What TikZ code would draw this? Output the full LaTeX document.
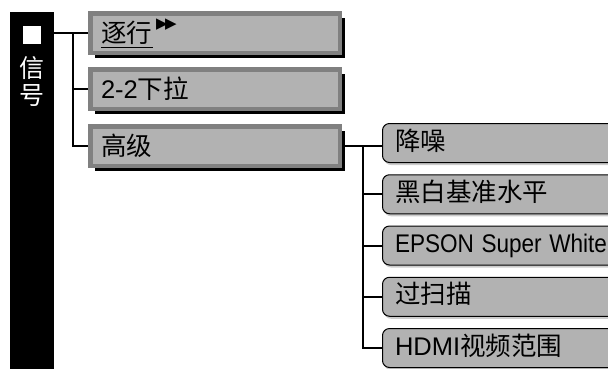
\documentclass[tikz,border=0pt]{standalone}
\usepackage{fontspec}
\setmainfont{Liberation Sans}
\newfontfamily\cjk{Noto Sans CJK SC}
\newfontfamily\symb{DejaVu Sans}
\usetikzlibrary{shadows}
\definecolor{menufill}{gray}{0.70}
\definecolor{menuframe}{gray}{0.50}

\begin{document}
\begin{tikzpicture}[x=1pt,y=-1pt,
  menutext/.style={font=\fontsize{25.5}{27}\selectfont},
  topitem/.style={menutext, fill=menufill, draw=menuframe, line width=4.5pt,
    minimum height=39.5pt, text width=228pt, inner xsep=10.75pt, align=left,
    text height=20pt, text depth=2pt,
    drop shadow={fill=black, opacity=1, shadow xshift=5pt, shadow yshift=-5pt}},
  subitem/.style={menutext, fill=menufill, draw=black, line width=1pt, rounded corners=7pt,
    minimum height=39pt, text width=252pt, inner xsep=12.5pt, align=left,
    text height=18pt, text depth=4pt,
    drop shadow={fill=black, opacity=0.2, shadow xshift=1.5pt, shadow yshift=-2.5pt}},
  link/.style={line width=2pt}]
\useasboundingbox (0,0) rectangle (608,368);
\clip (0,0) rectangle (608,368);

\node [fill=black, minimum width=44pt, minimum height=370pt, inner sep=0pt, anchor=north] (sig) at (32,12) {};
\node [fill=white, minimum size=18pt, inner sep=0pt] (mark) at (32,35) {};
\node [text=white, align=center, inner sep=0pt, font=\cjk\fontsize{25}{27}\selectfont] (sigtext) at (32,81) {信\\号};

\node [topitem] (prog) at (215,33) {{\cjk\rlap{\rule[-6pt]{52pt}{1pt}}逐行}\kern4pt\raisebox{14pt}{\symb\fontsize{15}{15}\selectfont ▶\kern-2.5pt▶}};
\node [topitem] (pull) at (215,89) {2-2{\cjk 下拉}};
\node [topitem] (adv)  at (215,146) {\cjk 高级};

\node [subitem] (noise) at (521,143) {\cjk 降噪};
\node [subitem] (black) at (521,194.25) {\cjk 黑白基准水平};
\node [subitem] (white) at (521,245.5) {\scalebox{0.885}[1]{EPSON Super White}};
\node [subitem] (scan)  at (521,296.75) {\cjk 过扫描};
\node [subitem] (hdmi)  at (521,348) {HDMI{\cjk 视频范围}};

\coordinate (forka) at (73,0);
\coordinate (forkb) at (363,0);
\draw [link] (sig.east |- prog.west) -- (prog.west);
\draw [link] (forka |- prog.west) |- (adv.west);
\draw [link] (forka |- pull.west) -- (pull.west);
\draw [link] (adv.east) -- (adv.east -| noise.west);
\draw [link] (forkb |- adv.east) |- (hdmi.west);
\draw [link] (forkb |- black.west) -- (black.west);
\draw [link] (forkb |- white.west) -- (white.west);
\draw [link] (forkb |- scan.west) -- (scan.west);
\end{tikzpicture}
\end{document}
